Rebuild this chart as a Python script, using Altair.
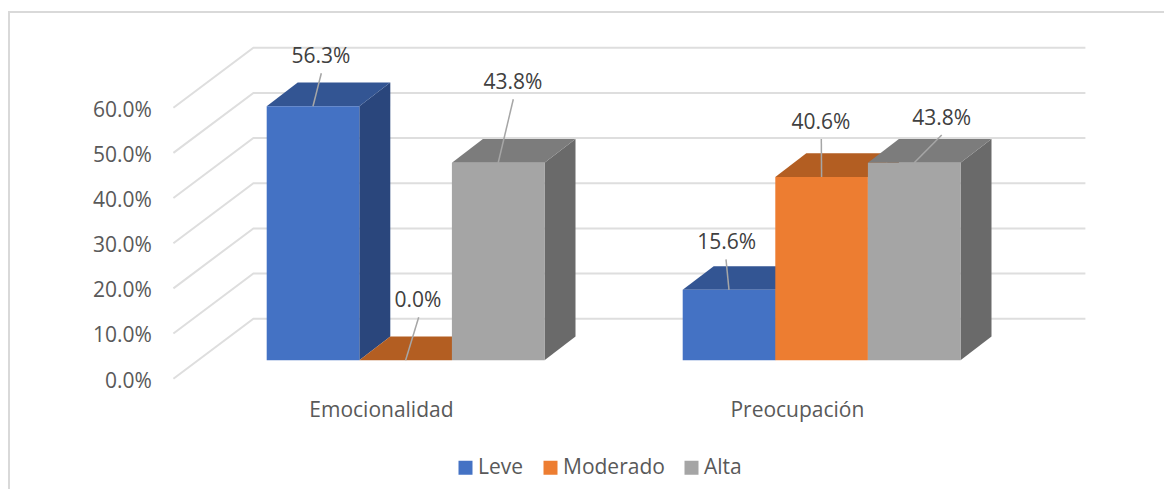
import altair as alt
import pandas as pd

categories = ["Emocionalidad", "Preocupación"]
series = ["Leve", "Moderado", "Alta"]
leve = [56.25, 15.6]
moderado = [0.0, 40.6]
alta = [43.75, 43.75]
value_labels = ["56.3%", "0.0%", "43.8%", "15.6%", "40.6%", "43.8%"]
label_x = [-0.2034, 0.0298, 0.2581, 0.7719, 0.9986, 1.2887]
label_y = [67.4, 13.35, 61.6, 26.3, 52.8, 53.7]
leader_x = [-0.2026, 0.0315, 0.2589, 0.7702, 0.9993, 1.2887]
leader_y = [63.55, 9.52, 57.8, 22.36, 49.0, 49.9]
grid_values = [0, 10, 20, 30, 40, 50, 60]

FRONT = {"Leve": "#4472c4", "Moderado": "#ed7d31", "Alta": "#a5a5a5"}
TOP = {"Leve": "#335593", "Moderado": "#b35e22", "Alta": "#7c7c7c"}
SIDE = {"Leve": "#2a467c", "Moderado": "#8f4d1e", "Alta": "#6a6a6a"}
BAR_W = 92.6 / 416
DX, DY = 31 / 416, 23.7 / 4.516
FRONT_DX, FRONT_DY = 24.2 / 416, 18.4 / 4.516
BACK_DX, BACK_DY = 55.8 / 416, 41.6 / 4.516
FONT = "Open Sans"
W, H = 1156, 481

xs = alt.Scale(domain=[-397.6 / 416, (W - 397.6) / 416], range=[0, W], nice=False, zero=False)
ys = alt.Scale(domain=[-(H - 352.3) / 4.516, 352.3 / 4.516], range=[H, 0], nice=False, zero=False)
X = lambda f: alt.X(f, type="quantitative", scale=xs, axis=None)
Y = lambda f: alt.Y(f, type="quantitative", scale=ys, axis=None)

bars = []
for c, cat in enumerate(categories):
    for s, (name, vals) in enumerate(zip(series, [leve, moderado, alta])):
        x0 = c - 1.5 * BAR_W + s * BAR_W
        bars.append(dict(id=f"{c}-{s}", cat=cat, series=name, s=s, x0=x0, x1=x0 + BAR_W, v=vals[c]))
bars_df = pd.DataFrame(bars)

side_rows, top_rows = [], []
for b in bars:
    v = b["v"]
    x0, x1 = b["x0"], b["x1"]
    for x, lo, hi in [(x1, 0, v), (x1 + DX, DY, v + DY)]:
        side_rows.append(dict(id=b["id"], x=x, lo=lo, hi=hi, col=SIDE[b["series"]]))
    for x, lo, hi in [(x0, v, v), (x0 + DX, v, v + DY), (x1, v, v + DY), (x1 + DX, v + DY, v + DY)]:
        top_rows.append(dict(id=b["id"], s=b["s"], x=x, lo=lo, hi=hi, col=TOP[b["series"]]))
side_df = pd.DataFrame(side_rows)
top_df = pd.DataFrame(top_rows)

grid_rows = []
for v in grid_values:
    grid_rows += [
        dict(v=v, o=0, x=-0.5 - FRONT_DX, y=v - FRONT_DY),
        dict(v=v, o=1, x=-0.5 + BACK_DX, y=v + BACK_DY),
        dict(v=v, o=2, x=1.5 + BACK_DX, y=v + BACK_DY),
    ]
grid_df = pd.DataFrame(grid_rows)

card = alt.Chart(pd.DataFrame({"a": [-0.9534], "b": [1.9], "c": [-40], "d": [77.13]})).mark_rect(
    fill="#ffffff", stroke="#d9d9d9", strokeWidth=2
).encode(x=X("a"), x2="b", y=Y("c"), y2="d")

grid = alt.Chart(grid_df).mark_line(color="#dedede", strokeWidth=2).encode(
    x=X("x"), y=Y("y"), detail="v:N", order="o:Q"
)

sides = alt.Chart(side_df).mark_area(orient="vertical").encode(
    x=X("x"), y=Y("lo"), y2="hi", detail="id:N", color=alt.Color("col:N", scale=None)
)

tops = [
    alt.Chart(top_df[top_df.s == s]).mark_area(orient="vertical").encode(
        x=X("x"), y=Y("lo"), y2="hi", detail="id:N", color=alt.Color("col:N", scale=None)
    )
    for s in range(3)
]

fronts = alt.Chart(bars_df).mark_rect().encode(
    x=X("x0"), x2="x1", y=Y("v"), y2=alt.datum(0),
    color=alt.Color(
        "series:N",
        scale=alt.Scale(domain=series, range=[FRONT[s] for s in series]),
        legend=alt.Legend(
            orient="none", legendX=447, legendY=449, direction="horizontal", title=None,
            symbolType="square", symbolSize=196, symbolStrokeWidth=0, labelFont=FONT,
            labelFontSize=21, labelColor="#595959", labelOffset=2, columnPadding=16,
            values=series,
        ),
    ),
)

leader_rows = []
for i, b in enumerate(bars):
    leader_rows += [
        dict(i=i, o=0, x=(b["x0"] + b["x1"]) / 2, y=b["v"]),
        dict(i=i, o=1, x=leader_x[i], y=leader_y[i]),
    ]
leaders = alt.Chart(pd.DataFrame(leader_rows)).mark_line(color="#a6a6a6", strokeWidth=1.5).encode(
    x=X("x"), y=Y("y"), detail="i:N", order="o:Q"
)

vlabels = alt.Chart(pd.DataFrame({"x": label_x, "y": label_y, "t": value_labels})).mark_text(
    font=FONT, fontSize=21, color="#404040", baseline="middle", align="center", dy=1
).encode(x=X("x"), y=Y("y"), text="t:N")

ticks_df = pd.DataFrame({
    "x": [-0.61] * len(grid_values),
    "y": [v - FRONT_DY - 0.2 for v in grid_values],
    "t": [f"{v:.1f}%" for v in grid_values],
})
ticks = alt.Chart(ticks_df).mark_text(
    font=FONT, fontSize=21, color="#595959", baseline="middle", align="right", dy=2
).encode(x=X("x"), y=Y("y"), text="t:N")

cat_df = pd.DataFrame({"x": [i - FRONT_DX for i in range(2)], "y": [-10.8] * 2, "t": categories})
cats = alt.Chart(cat_df).mark_text(
    font=FONT, fontSize=21, color="#595959", baseline="middle", align="center", dy=2
).encode(x=X("x"), y=Y("y"), text="t:N")

chart = alt.layer(
    card, grid, sides, *tops, fronts, leaders, vlabels, ticks, cats
).resolve_scale(color="independent").properties(
    width=W, height=H, padding=0, autosize=alt.AutoSizeParams(type="none"), background="#ffffff"
).configure_view(stroke=None)

chart.save("out.html", embed_options={"renderer": "svg", "actions": False})
